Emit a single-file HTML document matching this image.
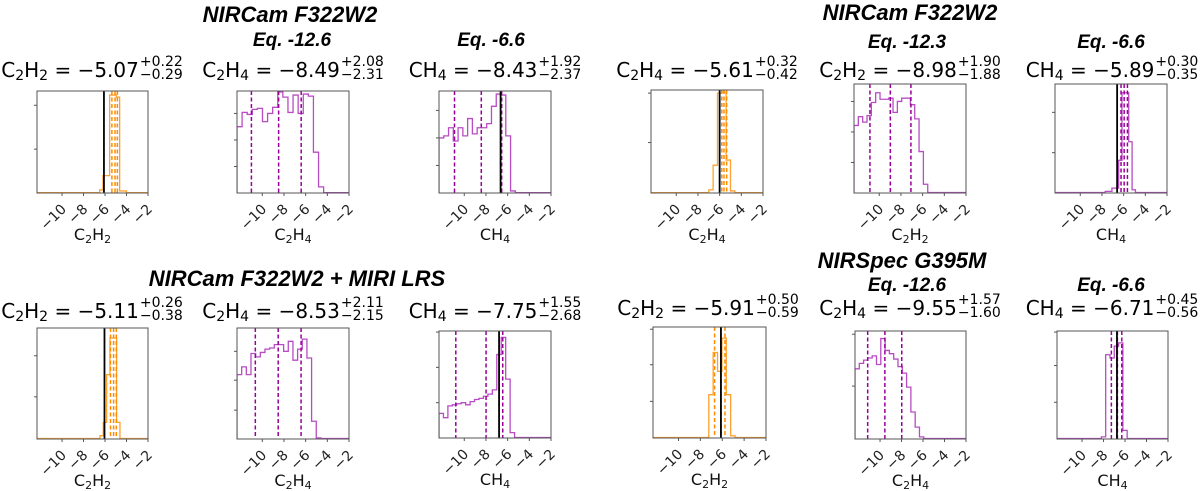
<!DOCTYPE html>
<html><head><meta charset="utf-8">
<style>
html,body{margin:0;padding:0;background:#fff;}
#wrap{position:relative;width:1200px;height:491px;overflow:hidden;font-family:"Liberation Sans",sans-serif;}
svg{position:absolute;left:0;top:0;}
.gt{position:absolute;font-weight:bold;font-style:italic;color:#000;white-space:nowrap;transform:translateX(-50%);}
.pt{position:absolute;display:flex;align-items:flex-start;transform:translateX(-50%);white-space:nowrap;color:#000;font-family:"DejaVu Sans",sans-serif;}
.pt .m{font-size:20px;line-height:20px;margin-top:3px;}
.pt .m sub{font-size:14px;vertical-align:-3px;line-height:0;}
.pt .s{display:flex;flex-direction:column;font-size:14px;line-height:13px;margin-left:1px;margin-top:-1px;}
</style></head>
<body>
<div id="wrap">
<svg id="chart" width="1200" height="491"></svg>

<div class="gt" style="left:290px;top:2px;font-size:22px">NIRCam F322W2</div>
<div class="gt" style="left:292px;top:30px;font-size:19px">Eq. -12.6</div>
<div class="gt" style="left:491px;top:30px;font-size:19px">Eq. -6.6</div>
<div class="gt" style="left:910px;top:0px;font-size:22px">NIRCam F322W2</div>
<div class="gt" style="left:907px;top:32px;font-size:19px">Eq. -12.3</div>
<div class="gt" style="left:1111px;top:32px;font-size:19px">Eq. -6.6</div>
<div class="gt" style="left:297px;top:266px;font-size:22px">NIRCam F322W2 + MIRI LRS</div>
<div class="gt" style="left:902px;top:248px;font-size:22px">NIRSpec G395M</div>
<div class="gt" style="left:907px;top:275px;font-size:19px">Eq. -12.6</div>
<div class="gt" style="left:1111px;top:275px;font-size:19px">Eq. -6.6</div>

<div class="pt" style="left:92px;top:57px"><span class="m">C<sub>2</sub>H<sub>2</sub> = −5.07</span><span class="s"><span>+0.22</span><span>−0.29</span></span></div>
<div class="pt" style="left:293px;top:57px"><span class="m">C<sub>2</sub>H<sub>4</sub> = −8.49</span><span class="s"><span>+2.08</span><span>−2.31</span></span></div>
<div class="pt" style="left:495px;top:57px"><span class="m">CH<sub>4</sub> = −8.43</span><span class="s"><span>+1.92</span><span>−2.37</span></span></div>
<div class="pt" style="left:707px;top:57px"><span class="m">C<sub>2</sub>H<sub>4</sub> = −5.61</span><span class="s"><span>+0.32</span><span>−0.42</span></span></div>
<div class="pt" style="left:910px;top:57px"><span class="m">C<sub>2</sub>H<sub>2</sub> = −8.98</span><span class="s"><span>+1.90</span><span>−1.88</span></span></div>
<div class="pt" style="left:1112px;top:57px"><span class="m">CH<sub>4</sub> = −5.89</span><span class="s"><span>+0.30</span><span>−0.35</span></span></div>
<div class="pt" style="left:92px;top:298px"><span class="m">C<sub>2</sub>H<sub>2</sub> = −5.11</span><span class="s"><span>+0.26</span><span>−0.38</span></span></div>
<div class="pt" style="left:293px;top:298px"><span class="m">C<sub>2</sub>H<sub>4</sub> = −8.53</span><span class="s"><span>+2.11</span><span>−2.15</span></span></div>
<div class="pt" style="left:495px;top:298px"><span class="m">CH<sub>4</sub> = −7.75</span><span class="s"><span>+1.55</span><span>−2.68</span></span></div>
<div class="pt" style="left:708px;top:295px"><span class="m">C<sub>2</sub>H<sub>2</sub> = −5.91</span><span class="s"><span>+0.50</span><span>−0.59</span></span></div>
<div class="pt" style="left:910px;top:295px"><span class="m">C<sub>2</sub>H<sub>4</sub> = −9.55</span><span class="s"><span>+1.57</span><span>−1.60</span></span></div>
<div class="pt" style="left:1112px;top:295px"><span class="m">CH<sub>4</sub> = −6.71</span><span class="s"><span>+0.45</span><span>−0.56</span></span></div>
</div>

<script>
// ---- data ----
const xTicks = [-10, -8, -6, -4, -2];
const xTickLabels = ["−10", "−8", "−6", "−4", "−2"];

const p1Counts = [0.03, 0.17, 0.17, 0.96, 0.96, 0.94, 0.02, 0.02];
const p1Start = -6.5, p1Width = 0.31;
const p1Quant = [-5.36, -5.07, -4.85];
const p1Truth = -6.1;

const p2Counts = [0.65, 0.79, 0.77, 0.82, 0.83, 0.70, 0.78, 0.84, 0.99, 0.94, 0.79, 0.96, 0.78, 0.97, 0.95, 0.40, 0.06];
const p2Start = -12.33, p2Width = 0.47;
const p2Quant = [-11.0, -8.49, -6.41];

const p3Counts = [0.54, 0.56, 0.64, 0.51, 0.64, 0.56, 0.73, 0.58, 0.64, 0.64, 0.68, 0.85, 0.97, 0.96, 0.56, 0.02];
const p3Start = -12.33, p3Width = 0.44;
const p3Quant = [-10.9, -8.43, -6.55];
const p3Truth = -6.65;

const p4Counts = [0.03, 0.27, 0.97, 0.98, 0.32, 0.02];
const p4Start = -7.0, p4Width = 0.4;
const p4Quant = [-5.8, -5.6, -5.35];
const p4Truth = -6.0;

const p5Counts = [0.62, 0.70, 0.65, 0.71, 0.83, 0.92, 0.86, 0.86, 0.87, 0.74, 0.84, 0.87, 0.87, 0.81, 0.68, 0.38, 0.08];
const p5Start = -12.33, p5Width = 0.40;
const p5Quant = [-10.86, -8.98, -7.08];

const p6Counts = [0.015, 0.015, 0.045, 0.045, 0.30, 0.92, 0.92, 0.47, 0.03];
const p6Start = -7.7, p6Width = 0.31;
const p6Quant = [-6.24, -5.95, -5.65];
const p6Truth = -6.6;

const p7Counts = [0.03, 0.15, 0.58, 0.91, 0.91, 0.15];
const p7Start = -6.47, p7Width = 0.31;
const p7Quant = [-5.49, -5.2, -4.95];
const p7Truth = -6.05;

const p8Counts = [0.58, 0.65, 0.58, 0.77, 0.74, 0.78, 0.81, 0.82, 0.85, 0.85, 0.79, 0.88, 0.71, 0.81, 0.90, 0.73, 0.16, 0.01];
const p8Start = -12.33, p8Width = 0.43;
const p8Quant = [-10.64, -8.53, -6.42];

const p9Counts = [0.23, 0.19, 0.30, 0.31, 0.32, 0.33, 0.31, 0.34, 0.36, 0.37, 0.39, 0.41, 0.45, 0.78, 0.94, 0.55, 0.05];
const p9Start = -12.33, p9Width = 0.41;
const p9Quant = [-10.78, -7.99, -6.45];
const p9Truth = -6.79;

const p10Counts = [0.39, 0.77, 0.60, 0.90, 0.39, 0.02];
const p10Start = -7.23, p10Width = 0.4;
const p10Quant = [-6.7, -6.1, -5.75];
const p10Truth = -6.12;

const p11Counts = [0.65, 0.70, 0.73, 0.75, 0.77, 0.69, 0.93, 0.82, 0.79, 0.74, 0.67, 0.61, 0.48, 0.25, 0.11, 0.02];
const p11Start = -12.33, p11Width = 0.40;
const p11Quant = [-11.15, -9.55, -7.98];

const p12Counts = [0.02, 0.78, 0.75, 0.86, 0.89, 0.08];
const p12Start = -8.2, p12Width = 0.4;
const p12Quant = [-7.27, -6.71, -6.3];
const p12Truth = -6.75;

const XMIN = -12.33, XMAX = -2;

// ---- layout ----
const ORANGE = {hist: "#ffa12e", dash: "#ff8c00"};
const PURPLE = {hist: "#b84cc4", dash: "#990099"};
const panels = [
  {id:"c2h2-tl", counts:p1Counts, start:p1Start, w:p1Width, q:p1Quant, truth:p1Truth, col:ORANGE, x0:37, x1:148, y0:91, y1:193, lab:["C","2","H","2"], yt:[0.43,0.86]},
  {id:"c2h4-tl", counts:p2Counts, start:p2Start, w:p2Width, q:p2Quant, truth:null, col:PURPLE, x0:237, x1:349, y0:91, y1:193, lab:["C","2","H","4"], yt:[0.26,0.52,0.78]},
  {id:"ch4-tl", counts:p3Counts, start:p3Start, w:p3Width, q:p3Quant, truth:p3Truth, col:PURPLE, x0:439, x1:551, y0:91, y1:193, lab:["CH","4"], yt:[0.27,0.54,0.81]},
  {id:"c2h4-tr", counts:p4Counts, start:p4Start, w:p4Width, q:p4Quant, truth:p4Truth, col:ORANGE, x0:651, x1:763, y0:90, y1:193, lab:["C","2","H","4"], yt:[0.49,0.97]},
  {id:"c2h2-tr", counts:p5Counts, start:p5Start, w:p5Width, q:p5Quant, truth:null, col:PURPLE, x0:854, x1:966, y0:84, y1:193, lab:["C","2","H","2"], yt:[0.28,0.56,0.84]},
  {id:"ch4-tr", counts:p6Counts, start:p6Start, w:p6Width, q:p6Quant, truth:p6Truth, col:PURPLE, x0:1055, x1:1167, y0:84, y1:193, lab:["CH","4"], yt:[0.37,0.74]},
  {id:"c2h2-bl", counts:p7Counts, start:p7Start, w:p7Width, q:p7Quant, truth:p7Truth, col:ORANGE, x0:37, x1:148, y0:328, y1:439, lab:["C","2","H","2"], yt:[0.38,0.75]},
  {id:"c2h4-bl", counts:p8Counts, start:p8Start, w:p8Width, q:p8Quant, truth:null, col:PURPLE, x0:237, x1:349, y0:328, y1:439, lab:["C","2","H","4"], yt:[0.26,0.53,0.79]},
  {id:"ch4-bl", counts:p9Counts, start:p9Start, w:p9Width, q:p9Quant, truth:p9Truth, col:PURPLE, x0:439, x1:551, y0:331, y1:438, lab:["CH","4"], yt:[0.33,0.66,0.99]},
  {id:"c2h2-br", counts:p10Counts, start:p10Start, w:p10Width, q:p10Quant, truth:p10Truth, col:ORANGE, x0:653, x1:766, y0:327, y1:438, lab:["C","2","H","2"], yt:[0.33,0.66,0.98]},
  {id:"c2h4-br", counts:p11Counts, start:p11Start, w:p11Width, q:p11Quant, truth:null, col:PURPLE, x0:855, x1:966, y0:331, y1:439, lab:["C","2","H","4"], yt:[0.49,0.97]},
  {id:"ch4-br", counts:p12Counts, start:p12Start, w:p12Width, q:p12Quant, truth:p12Truth, col:PURPLE, x0:1057, x1:1168, y0:331, y1:439, lab:["CH","4"], yt:[0.34,0.68,0.99]}
];

const NS = "http://www.w3.org/2000/svg";
const svg = document.getElementById("chart");
function mk(tag, attrs, parent){
  const e = document.createElementNS(NS, tag);
  for (const k in attrs) e.setAttribute(k, attrs[k]);
  (parent || svg).appendChild(e);
  return e;
}
function sx(p, v){ return p.x0 + (v - XMIN) / (XMAX - XMIN) * (p.x1 - p.x0); }
function sy(p, f){ return p.y1 - f * (p.y1 - p.y0); }

const defs = mk("defs", {});
panels.forEach(function(p){
  const g = mk("g", {});
  
  

  const cp = mk("clipPath", {id: "clip-" + p.id}, defs);
  mk("rect", {x: p.x0, y: p.y0, width: p.x1 - p.x0, height: p.y1 - p.y0}, cp);

  let d = "M" + sx(p, XMIN) + "," + sy(p, 0.004) + " L" + sx(p, p.start) + "," + sy(p, 0.004);
  for (let i = 0; i < p.counts.length; i++){
    const a = sx(p, p.start + i * p.w), b = sx(p, p.start + (i + 1) * p.w), y = sy(p, p.counts[i]);
    d += " L" + a + "," + y + " L" + b + "," + y;
  }
  const endX = sx(p, p.start + p.counts.length * p.w);
  d += " L" + endX + "," + sy(p, 0.004) + " L" + sx(p, XMAX) + "," + sy(p, 0.004);
  const hist = mk("path", {d: d, fill: "none", stroke: p.col.hist, "stroke-width": 1.3, "clip-path": "url(#clip-" + p.id + ")"}, g);
  
  

  p.q.forEach(function(v){
    const ln = mk("line", {x1: sx(p, v), x2: sx(p, v), y1: p.y0, y2: p.y1, stroke: p.col.dash, "stroke-width": 1.5, "stroke-dasharray": "4,2.5"}, g);
    
    
  });
  if (p.truth !== null){
    const t = mk("line", {x1: sx(p, p.truth), x2: sx(p, p.truth), y1: p.y0, y2: p.y1, stroke: "#000", "stroke-width": 1.8}, g);
    
    
  }
  const fr = mk("rect", {x: p.x0, y: p.y0, width: p.x1 - p.x0, height: p.y1 - p.y0, fill: "none", stroke: "#555", "stroke-width": 1}, g);
  
  
  p.yt.forEach(function(f){
    mk("line", {x1: p.x0 - 3, x2: p.x0, y1: sy(p, f), y2: sy(p, f), stroke: "#555", "stroke-width": 1}, g);
  });
  xTicks.forEach(function(v, i){
    const x = sx(p, v);
    mk("line", {x1: x, x2: x, y1: p.y1, y2: p.y1 + 3, stroke: "#555", "stroke-width": 1}, g);
    const tx = x + 5, ty = p.y1 + 17;
    const lb = mk("text", {x: tx, y: ty, "text-anchor": "end", "font-size": 14, "font-family": "DejaVu Sans, sans-serif", fill: "#222", transform: "rotate(-45 " + tx + " " + ty + ")"}, g);
    lb.textContent = xTickLabels[i];
    
    
  });
  const xl = mk("text", {x: (p.x0 + p.x1) / 2, y: p.y1 + 47, "text-anchor": "middle", "font-size": 16, "font-family": "DejaVu Sans, sans-serif", fill: "#111"}, g);
  for (let i = 0; i < p.lab.length; i++){
    const ts = mk("tspan", {}, xl);
    if (i % 2 === 1){ ts.setAttribute("font-size", "11"); ts.setAttribute("dy", "3"); }
    else if (i > 0){ ts.setAttribute("dy", "-3"); }
    ts.textContent = p.lab[i];
  }
  
  
});
</script>
</body></html>
